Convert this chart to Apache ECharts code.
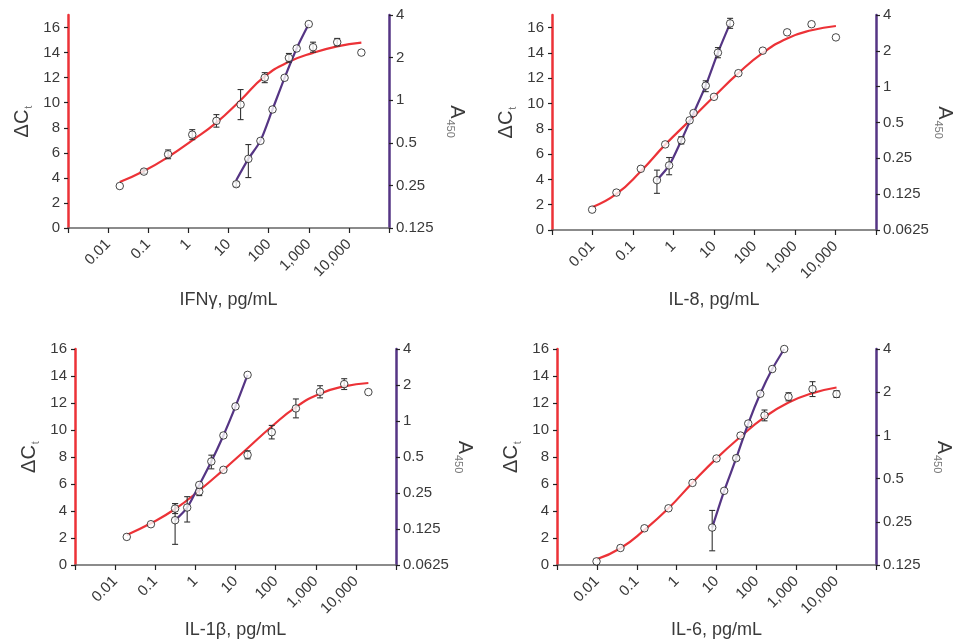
<!DOCTYPE html>
<html><head><meta charset="utf-8">
<script src="https://cdn.jsdelivr.net/npm/echarts@6/dist/echarts.min.js"></script>
<style>html,body{margin:0;padding:0;background:#fff}#c{width:962px;height:643px}</style>
</head><body><div id="c"></div>
<script>
// ---------- data ----------
const axisTitles = ['IFNγ, pg/mL', 'IL-8, pg/mL', 'IL-1β, pg/mL', 'IL-6, pg/mL'];
const leftTickValues = [0, 2, 4, 6, 8, 10, 12, 14, 16];

// Panel 1: IFNγ
const ifnRedX = [0.0195, 0.078, 0.3125, 1.25, 5, 20, 80, 320, 1280, 5120, 20480];
const ifnRedY = [3.35, 4.5, 5.88, 7.45, 8.55, 9.85, 12.0, 13.58, 14.43, 14.83, 14.0];
const ifnRedErr = [0, 0.15, 0.35, 0.4, 0.5, 1.2, 0.4, 0.35, 0.4, 0.3, 0];
const ifnFitY = [3.67, 4.55, 5.67, 7.0, 8.41, 10.2, 12.1, 13.26, 13.98, 14.5, 14.8];
const ifnPurX = [15.6, 31.25, 62.5, 125, 250, 500, 1000];
const ifnPurA = [0.255, 0.385, 0.516, 0.86, 1.44, 2.32, 3.45];
const ifnPurLo = [0.245, 0.284, null, null, null, null, null];
const ifnPurHi = [0.265, 0.486, null, null, null, null, null];
const ifnPurFit = [0.272, 0.385, 0.516, 0.86, 1.44, 2.32, 3.45];

// Panel 2: IL-8
const il8RedX = [0.0098, 0.039, 0.156, 0.625, 2.5, 10, 40, 160, 640, 2560, 10240];
const il8RedY = [1.61, 2.96, 4.84, 6.77, 8.67, 10.53, 12.4, 14.18, 15.63, 16.27, 15.23];
const il8RedErr = [0, 0, 0, 0, 0, 0, 0, 0, 0, 0, 0];
const il8FitY = [1.8, 2.85, 4.65, 6.75, 8.65, 10.55, 12.4, 14.0, 15.15, 15.79, 16.13];
const il8PurX = [0.39, 0.78, 1.56, 3.125, 6.25, 12.5, 25];
const il8PurA = [0.164, 0.218, 0.354, 0.60, 1.02, 1.93, 3.4];
const il8PurLo = [0.127, 0.182, 0.33, null, 0.908, 1.75, 3.09];
const il8PurHi = [0.199, 0.254, 0.38, null, 1.12, 2.13, 3.75];
const il8PurFit = [0.164, 0.218, 0.354, 0.60, 1.02, 1.93, 3.4];

// Panel 3: IL-1β
const il1RedX = [0.0195, 0.078, 0.3125, 1.25, 5, 20, 80, 320, 1280, 5120, 20480];
const il1RedY = [2.08, 3.02, 4.18, 5.44, 7.05, 8.16, 9.84, 11.6, 12.83, 13.4, 12.81];
const il1RedErr = [0, 0, 0.37, 0.3, 0, 0.3, 0.5, 0.7, 0.45, 0.4, 0];
const il1FitY = [2.23, 3.09, 4.15, 5.52, 7.05, 8.65, 10.26, 11.7, 12.69, 13.23, 13.48];
const il1PurX = [0.3125, 0.625, 1.25, 2.5, 5, 10, 20];
const il1PurA = [0.148, 0.189, 0.292, 0.459, 0.757, 1.325, 2.43];
const il1PurLo = [0.093, 0.143, null, 0.398, null, null, null];
const il1PurHi = [0.204, 0.233, null, 0.518, null, null, null];
const il1PurFit = [0.148, 0.189, 0.292, 0.459, 0.757, 1.325, 2.43];

// Panel 4: IL-6
const il6RedX = [0.0098, 0.039, 0.156, 0.625, 2.5, 10, 40, 160, 640, 2560, 10240];
const il6RedY = [0.27, 1.26, 2.72, 4.2, 6.08, 7.89, 9.59, 11.08, 12.46, 13.03, 12.66];
const il6RedErr = [0, 0, 0, 0, 0, 0, 0, 0.4, 0.3, 0.55, 0.25];
const il6FitY = [0.42, 1.24, 2.6, 4.2, 6.1, 7.9, 9.5, 10.95, 12.04, 12.73, 13.15];
const il6PurX = [7.8, 15.6, 31.25, 62.5, 125, 250, 500];
const il6PurA = [0.228, 0.411, 0.694, 1.21, 1.95, 2.9, 4.0];
const il6PurLo = [0.157, null, 0.67, null, null, null, null];
const il6PurHi = [0.30, null, 0.72, null, null, null, null];
const il6PurFit = [0.228, 0.411, 0.694, 1.21, 1.95, 2.9, 4.0];

// ---------- layout / style ----------
const RED = '#ec3237', PURPLE = '#553584', TXT = '#3a3a3a', FONT = 'Liberation Sans, Arial, sans-serif';
const panels = [
  {grid:{left:68, top:15, width:321, height:213}, leftMax:17, rightMin:0.125, rightSplit:5, nameGap:63,
   rx:ifnRedX, ry:ifnRedY, re:ifnRedErr, fy:ifnFitY, px:ifnPurX, pa:ifnPurA, plo:ifnPurLo, phi:ifnPurHi, pf:ifnPurFit},
  {grid:{left:552, top:15, width:324, height:215}, leftMax:17, rightMin:0.0625, rightSplit:6, nameGap:61,
   rx:il8RedX, ry:il8RedY, re:il8RedErr, fy:il8FitY, px:il8PurX, pa:il8PurA, plo:il8PurLo, phi:il8PurHi, pf:il8PurFit},
  {grid:{left:75, top:349, width:321, height:216}, leftMax:16, rightMin:0.0625, rightSplit:6, nameGap:56,
   rx:il1RedX, ry:il1RedY, re:il1RedErr, fy:il1FitY, px:il1PurX, pa:il1PurA, plo:il1PurLo, phi:il1PurHi, pf:il1PurFit},
  {grid:{left:557, top:349, width:319, height:216}, leftMax:16, rightMin:0.125, rightSplit:5, nameGap:56,
   rx:il6RedX, ry:il6RedY, re:il6RedErr, fy:il6FitY, px:il6PurX, pa:il6PurA, plo:il6PurLo, phi:il6PurHi, pf:il6PurFit}
];

function fmtNum(v){ return Number(Number(v).toPrecision(6)); }
function xLabel(v){
  const r = fmtNum(v);
  if (r < 0.005 || r > 50000) return '';
  return r >= 1000 ? r.toLocaleString('en-US') : String(r);
}
function errRender(params, api){
  const x = api.value(0), lo = api.value(1), hi = api.value(2);
  const p1 = api.coord([x, lo]), p2 = api.coord([x, hi]);
  const w = 3, st = {stroke:'#333', lineWidth:1.1};
  return {type:'group', children:[
    {type:'line', shape:{x1:p1[0], y1:p1[1], x2:p2[0], y2:p2[1]}, style:st},
    {type:'line', shape:{x1:p1[0]-w, y1:p1[1], x2:p1[0]+w, y2:p1[1]}, style:st},
    {type:'line', shape:{x1:p2[0]-w, y1:p2[1], x2:p2[0]+w, y2:p2[1]}, style:st}
  ]};
}

const option = {animation:false, backgroundColor:'#fff', textStyle:{fontFamily:FONT},
  grid:[], xAxis:[], yAxis:[], series:[]};

panels.forEach((p, i) => {
  option.grid.push(Object.assign({containLabel:false}, p.grid));
  option.xAxis.push({
    type:'log', logBase:10, gridIndex:i, min:0.001, max:100000, splitNumber:8,
    axisLine:{show:true, lineStyle:{color:'#666', width:1.5}},
    axisTick:{show:true, length:5, lineStyle:{color:'#222', width:1.2}},
    minorTick:{show:false}, splitLine:{show:false},
    axisLabel:{rotate:45, fontSize:15, color:TXT, margin:14, formatter:xLabel, fontFamily:FONT, showMinLabel:true, showMaxLabel:true},
    name:axisTitles[i], nameLocation:'middle', nameGap:p.nameGap,
    nameTextStyle:{fontSize:18, color:TXT, fontFamily:FONT}
  });
  option.yAxis.push({
    type:'value', gridIndex:i, position:'left', min:0, max:p.leftMax,
    axisLine:{show:true, lineStyle:{color:RED, width:2.5}},
    axisTick:{show:true, length:4, lineStyle:{color:'#222', width:1.2}, customValues:leftTickValues},
    axisLabel:{fontSize:15, color:TXT, margin:8, customValues:leftTickValues, fontFamily:FONT},
    splitLine:{show:false},
    name:'{a|ΔC}{s|t}', nameLocation:'middle', nameGap:34, nameRotate:90,
    nameTextStyle:{rich:{a:{fontSize:20, color:TXT, fontFamily:FONT}, s:{fontSize:11, color:'#777', padding:[12,0,0,1], fontFamily:FONT}}}
  });
  option.yAxis.push({
    type:'log', logBase:2, gridIndex:i, position:'right', min:p.rightMin, max:4, splitNumber:p.rightSplit,
    axisLine:{show:true, lineStyle:{color:PURPLE, width:2.5}},
    axisTick:{show:true, length:4, lineStyle:{color:'#222', width:1.2}},
    minorTick:{show:false},
    axisLabel:{fontSize:15, color:TXT, margin:7, formatter:v => String(fmtNum(v)), fontFamily:FONT, showMinLabel:true, showMaxLabel:true},
    splitLine:{show:false},
    name:'{a|A}{s|450}', nameLocation:'middle', nameGap:56, nameRotate:-90,
    nameTextStyle:{rich:{a:{fontSize:20, color:TXT, fontFamily:FONT}, s:{fontSize:11, color:'#777', padding:[12,0,0,1], fontFamily:FONT}}}
  });
  const yl = 2*i, yr = 2*i + 1;
  option.series.push({type:'line', xAxisIndex:i, yAxisIndex:yl, smooth:true, showSymbol:false, z:2,
    lineStyle:{color:RED, width:2.2}, data:p.rx.map((x,k)=>[x, p.fy[k]])});
  option.series.push({type:'line', xAxisIndex:i, yAxisIndex:yr, smooth:0.25, showSymbol:false, z:2,
    lineStyle:{color:PURPLE, width:2.2}, data:p.px.map((x,k)=>[x, p.pf[k]])});
  option.series.push({type:'custom', xAxisIndex:i, yAxisIndex:yl, z:3, renderItem:errRender,
    encode:{x:0, y:[1,2]},
    data:p.rx.map((x,k)=>[x, p.ry[k]-p.re[k], p.ry[k]+p.re[k]]).filter((d,k)=>p.re[k]>0)});
  option.series.push({type:'custom', xAxisIndex:i, yAxisIndex:yr, z:3, renderItem:errRender,
    encode:{x:0, y:[1,2]},
    data:p.px.map((x,k)=>[x, p.plo[k], p.phi[k]]).filter(d=>d[1]!=null)});
  const sym = {type:'scatter', symbol:'circle', symbolSize:7.5, z:4,
    itemStyle:{color:'#fff', borderColor:'#1a1a1a', borderWidth:1}};
  option.series.push(Object.assign({}, sym, {xAxisIndex:i, yAxisIndex:yl, data:p.rx.map((x,k)=>[x, p.ry[k]])}));
  option.series.push(Object.assign({}, sym, {xAxisIndex:i, yAxisIndex:yr, data:p.px.map((x,k)=>[x, p.pa[k]])}));
});

const chart = echarts.init(document.getElementById('c'), null, {renderer:'canvas'});
chart.setOption(option);
</script></body></html>
